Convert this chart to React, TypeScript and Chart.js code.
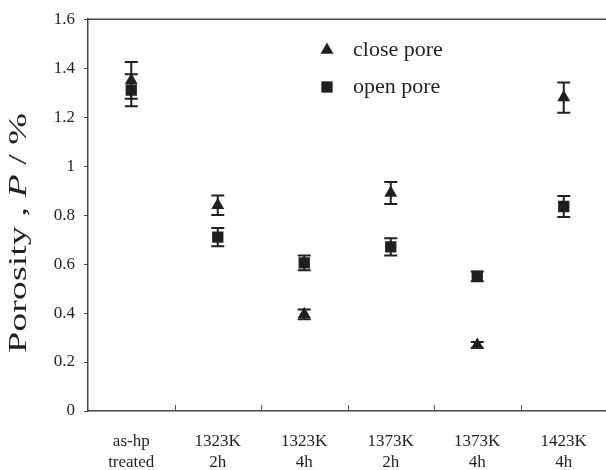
import React, { useEffect, useRef } from "react";
import { Chart, registerables } from "chart.js";
Chart.register(...registerables);

const categories: string[][] = [
  ["as-hp", "treated"],
  ["1323K", "2h"],
  ["1323K", "4h"],
  ["1373K", "2h"],
  ["1373K", "4h"],
  ["1423K", "4h"],
];
const closePore = [1.35, 0.84, 0.395, 0.89, 0.27, 1.28];
const closeErr = [0.075, 0.04, 0.02, 0.045, 0.012, 0.062];
const openPore = [1.31, 0.71, 0.605, 0.67, 0.55, 0.835];
const openErr = [0.065, 0.037, 0.03, 0.035, 0.02, 0.043];
const yTicks = [0, 0.2, 0.4, 0.6, 0.8, 1, 1.2, 1.4, 1.6];

const INK = "#231f20";
const SERIF = "'Liberation Serif', 'DejaVu Serif', serif";

function drawMarker(ctx: CanvasRenderingContext2D, style: string, r: number, x: number, y: number) {
  ctx.beginPath();
  if (style === "triangle") {
    let rad = 0;
    ctx.moveTo(x + Math.sin(rad) * r, y - Math.cos(rad) * r);
    rad += (2 * Math.PI) / 3;
    ctx.lineTo(x + Math.sin(rad) * r, y - Math.cos(rad) * r);
    rad += (2 * Math.PI) / 3;
    ctx.lineTo(x + Math.sin(rad) * r, y - Math.cos(rad) * r);
    ctx.closePath();
  } else {
    const s = Math.SQRT1_2 * r;
    ctx.rect(x - s, y - s, 2 * s, 2 * s);
  }
  ctx.fill();
}

const extrasPlugin = {
  id: "extras",
  beforeDatasetsDraw(chart: any) {
    const { ctx, chartArea, scales } = chart;
    ctx.save();
    ctx.strokeStyle = "#444";
    ctx.lineWidth = 1.5;
    ctx.beginPath();
    ctx.moveTo(chartArea.left, chartArea.top);
    ctx.lineTo(chartArea.right + 20, chartArea.top);
    ctx.stroke();
    const x = scales.x;
    ctx.strokeStyle = "#555";
    ctx.lineWidth = 1;
    for (let i = 1; i < categories.length; i++) {
      const px = (x.getPixelForValue(i - 1) + x.getPixelForValue(i)) / 2;
      ctx.beginPath();
      ctx.moveTo(Math.round(px) + 0.5, chartArea.bottom);
      ctx.lineTo(Math.round(px) + 0.5, chartArea.bottom - 6);
      ctx.stroke();
    }
    ctx.fillStyle = INK;
    ctx.textBaseline = "middle";
    ctx.translate(19, 233);
    ctx.rotate(-Math.PI / 2);
    const parts = [
      { t: "Porosity , ", f: `25px ${SERIF}` },
      { t: "P", f: `italic 25px ${SERIF}` },
      { t: " / %", f: `25px ${SERIF}` },
    ];
    let total = 0;
    for (const p of parts) {
      ctx.font = p.f;
      total += ctx.measureText(p.t).width;
    }
    const target = 240;
    ctx.scale(target / total, 1);
    let cx = -total / 2;
    ctx.textAlign = "left";
    for (const p of parts) {
      ctx.font = p.f;
      ctx.fillText(p.t, cx, 0);
      cx += ctx.measureText(p.t).width;
    }
    ctx.restore();
  },
  afterDatasetsDraw(chart: any) {
    const { ctx, scales } = chart;
    const x = scales.x;
    const y = scales.y;
    ctx.save();
    ctx.strokeStyle = INK;
    ctx.lineWidth = 2;
    const cap = 6.5;
    const drawErr = (vals: number[], errs: number[]) => {
      vals.forEach((v, i) => {
        const px = x.getPixelForValue(i);
        const top = y.getPixelForValue(v + errs[i]);
        const bot = y.getPixelForValue(v - errs[i]);
        ctx.beginPath();
        ctx.moveTo(px, top);
        ctx.lineTo(px, bot);
        ctx.moveTo(px - cap, top);
        ctx.lineTo(px + cap, top);
        ctx.moveTo(px - cap, bot);
        ctx.lineTo(px + cap, bot);
        ctx.stroke();
      });
    };
    drawErr(closePore, closeErr);
    drawErr(openPore, openErr);
    const items = [
      { style: "triangle", label: "close pore", y: 50 },
      { style: "rect", label: "open pore", y: 87 },
    ];
    ctx.fillStyle = INK;
    ctx.font = `22px ${SERIF}`;
    ctx.textBaseline = "middle";
    ctx.textAlign = "left";
    for (const it of items) {
      drawMarker(ctx, it.style, it.style === "rect" ? 8 : 7.5, 327, it.y);
      ctx.fillText(it.label, 353, it.y);
    }
    ctx.restore();
  },
};

export default function App() {
  const ref = useRef<HTMLCanvasElement | null>(null);
  useEffect(() => {
    if (!ref.current) return;
    const chart = new Chart(ref.current, {
      type: "line",
      data: {
        labels: categories,
        datasets: [
          {
            label: "close pore",
            data: closePore,
            showLine: false,
            pointStyle: "triangle",
            pointRadius: 7.5,
            backgroundColor: INK,
            borderColor: INK,
            borderWidth: 0,
          },
          {
            label: "open pore",
            data: openPore,
            showLine: false,
            pointStyle: "rect",
            pointRadius: 8,
            backgroundColor: INK,
            borderColor: INK,
            borderWidth: 0,
          },
        ],
      },
      options: {
        animation: false,
        responsive: false,
        layout: { padding: { top: 15, right: 13, left: 0, bottom: 0 } },
        plugins: { legend: { display: false }, tooltip: { enabled: false } },
        scales: {
          x: {
            type: "category",
            offset: true,
            grid: { display: true, drawOnChartArea: false, drawTicks: false, offset: true },
            border: { display: true, color: "#444", width: 1.5 },
            ticks: {
              color: INK,
              font: { family: SERIF, size: 17, lineHeight: 1.18 },
              padding: 21,
              maxRotation: 0,
              autoSkip: false,
            },
            afterFit: (s: any) => {
              s.height = 59;
            },
          },
          y: {
            min: 0,
            max: 1.6,
            afterBuildTicks: (s: any) => {
              s.ticks = yTicks.map((v) => ({ value: v }));
            },
            grid: { display: true, drawOnChartArea: false, drawTicks: true, tickLength: 4, color: "#444" },
            border: { display: true, color: "#444", width: 1.5 },
            ticks: {
              color: INK,
              font: { family: SERIF, size: 17 },
              padding: 9,
              callback: (v: any) => String(Math.round(Number(v) * 10) / 10),
            },
            afterFit: (s: any) => {
              s.width = 88;
            },
          },
        },
      },
      plugins: [extrasPlugin],
    });
    return () => chart.destroy();
  }, []);
  return (
    <div style={{ position: "fixed", left: 0, top: 0, width: 606, height: 470, overflow: "hidden", background: "#fff" }}>
      <canvas ref={ref} width={620} height={470} style={{ width: 620, height: 470, display: "block" }} />
    </div>
  );
}
